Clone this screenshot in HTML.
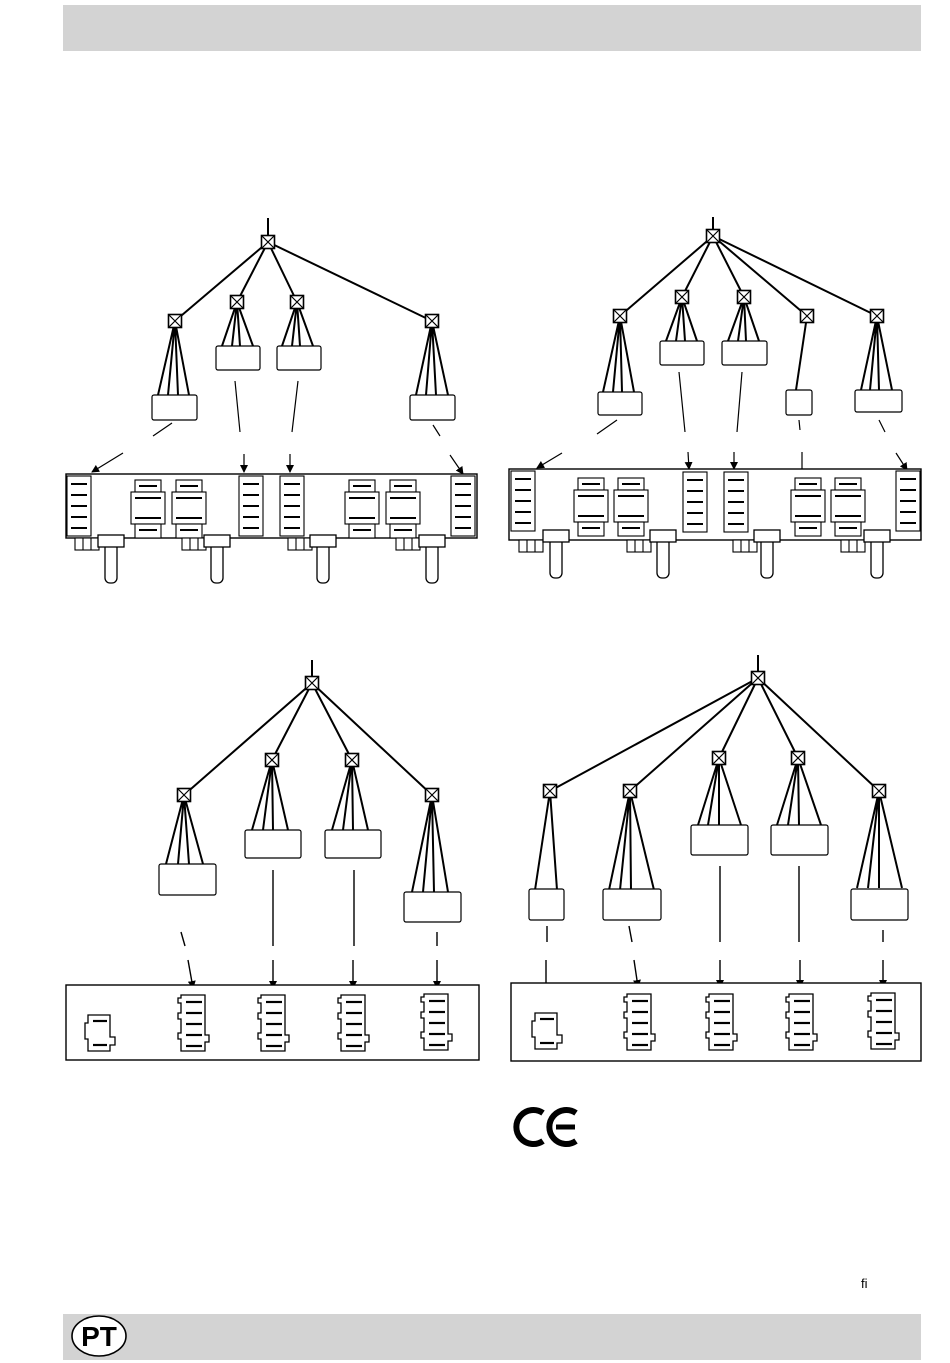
<!DOCTYPE html>
<html><head><meta charset="utf-8"><style>
html,body{margin:0;padding:0;background:#fff;}
svg{display:block;}
</style></head><body>
<svg width="950" height="1363" viewBox="0 0 950 1363" xmlns="http://www.w3.org/2000/svg" font-family="Liberation Sans, sans-serif">
<defs>
<g id="jb"><rect x="-6.5" y="-6.5" width="13" height="13" fill="#fff" stroke="#000" stroke-width="1.6"/><path d="M-6.5,-6.5L6.5,6.5M6.5,-6.5L-6.5,6.5" stroke="#000" stroke-width="1.2"/></g>
<marker id="ar" markerWidth="8" markerHeight="8" refX="7" refY="4" orient="auto" markerUnits="userSpaceOnUse"><path d="M0,0L8,4L0,8z" fill="#000"/></marker>
<g id="mod" fill="#fff" stroke="#000" stroke-width="1.3">
<path d="M0,0H24V40H28V47H24V56H0V44H-3V38H0V24H-3V18H0V8H-3V3H0Z"/>
<g stroke-width="2.2"><line x1="5" y1="7" x2="21" y2="7"/><line x1="5" y1="18" x2="21" y2="18"/><line x1="5" y1="29" x2="21" y2="29"/><line x1="5" y1="40" x2="21" y2="40"/><line x1="5" y1="51" x2="21" y2="51"/></g>
</g>
<g id="mod2" fill="#fff" stroke="#000" stroke-width="1.3">
<path d="M0,0H22V22H27V30H22V36H0V24H-3V8H0Z"/>
<g stroke-width="2.2"><line x1="5" y1="6" x2="19" y2="6"/><line x1="5" y1="30" x2="19" y2="30"/></g>
</g>
<g id="pmod" fill="#fff" stroke="#000" stroke-width="1.1">
<rect x="0" y="0" width="24" height="60"/>
<g stroke-width="2"><line x1="4" y1="8" x2="20" y2="8"/><line x1="4" y1="19" x2="20" y2="19"/><line x1="4" y1="30" x2="20" y2="30"/><line x1="4" y1="41" x2="20" y2="41"/><line x1="4" y1="52" x2="20" y2="52"/></g>
</g>
<g id="sw" fill="#fff" stroke="#000" stroke-width="1.1">
<rect x="0" y="0" width="26" height="12"/><rect x="-4" y="12" width="34" height="32"/><rect x="0" y="44" width="26" height="14"/>
<g stroke-width="2"><line x1="4" y1="6" x2="22" y2="6"/><line x1="0" y1="18" x2="26" y2="18"/><line x1="0" y1="38" x2="26" y2="38"/><line x1="4" y1="50" x2="22" y2="50"/></g>
</g>
<g id="knob" fill="#fff" stroke="#000" stroke-width="1.3">
<rect x="-6" y="8" width="12" height="40" rx="5"/><rect x="-13" y="0" width="26" height="12"/>
</g>
<g id="stub" fill="#fff" stroke="#000" stroke-width="1.1"><rect x="0" y="0" width="24" height="12"/><line x1="8" y1="0" x2="8" y2="12"/><line x1="16" y1="0" x2="16" y2="12"/></g>
</defs>

<rect x="63" y="5" width="858" height="46" fill="#d3d3d3"/>
<rect x="63" y="1314" width="858" height="46" fill="#d3d3d3"/>
<ellipse cx="99" cy="1336" rx="27" ry="20" fill="#fff" stroke="#000" stroke-width="1.6"/>
<text x="99" y="1346" font-size="28" font-weight="bold" text-anchor="middle">PT</text>
<text x="861" y="1288" font-size="13">fi</text>

<!-- CE -->
<path d="M543,1113 A17,17 0 1 0 543,1141" fill="none" stroke="#000" stroke-width="6"/>
<path d="M576,1113 A17,17 0 1 0 576,1141" fill="none" stroke="#000" stroke-width="6"/>
<line x1="556" y1="1127" x2="575" y2="1127" stroke="#000" stroke-width="5"/>

<g stroke="#000" stroke-width="2" fill="none">
<line x1="268" y1="218" x2="268" y2="236"/>
<line x1="268" y1="242" x2="175" y2="321"/><line x1="268" y1="242" x2="237" y2="302"/><line x1="268" y1="242" x2="297" y2="302"/><line x1="268" y1="242" x2="432" y2="321"/>
<path d="M175,321L158,395M175,321L168,395M175,321L178,395M175,321L189,395"/>
<path d="M237,302L222,346M237,302L232,346M237,302L240,346M237,302L253,346"/>
<path d="M297,302L282,346M297,302L292,346M297,302L300,346M297,302L313,346"/>
<path d="M432,321L416,395M432,321L426,395M432,321L436,395M432,321L448,395"/>
</g>
<g fill="#fff" stroke="#000" stroke-width="1.2">
<rect x="152" y="395" width="45" height="25" rx="2"/><rect x="216" y="346" width="44" height="24" rx="2"/><rect x="277" y="346" width="44" height="24" rx="2"/><rect x="410" y="395" width="45" height="25" rx="2"/>
</g>
<use href="#jb" x="268" y="242"/><use href="#jb" x="175" y="321"/><use href="#jb" x="237" y="302"/><use href="#jb" x="297" y="302"/><use href="#jb" x="432" y="321"/>
<g stroke="#000" stroke-width="1.2" fill="none">
<line x1="172" y1="423" x2="153" y2="436"/><line x1="123" y1="453" x2="92" y2="472" marker-end="url(#ar)"/>
<line x1="235" y1="381" x2="240" y2="432"/><line x1="244" y1="454" x2="244" y2="472" marker-end="url(#ar)"/>
<line x1="298" y1="381" x2="292" y2="432"/><line x1="290" y1="454" x2="290" y2="472" marker-end="url(#ar)"/>
<line x1="433" y1="425" x2="440" y2="436"/><line x1="450" y1="455" x2="463" y2="474" marker-end="url(#ar)"/>
</g>
<rect x="66" y="474" width="411" height="64" fill="#fff" stroke="#000" stroke-width="1.4"/>
<use href="#pmod" x="67" y="476"/><use href="#pmod" x="239" y="476"/><use href="#pmod" x="280" y="476"/><use href="#pmod" x="451" y="476"/>
<use href="#sw" x="135" y="480"/><use href="#sw" x="176" y="480"/><use href="#sw" x="349" y="480"/><use href="#sw" x="390" y="480"/>
<use href="#stub" x="75" y="538"/><use href="#stub" x="182" y="538"/><use href="#stub" x="288" y="538"/><use href="#stub" x="396" y="538"/>
<use href="#knob" x="111" y="535"/><use href="#knob" x="217" y="535"/><use href="#knob" x="323" y="535"/><use href="#knob" x="432" y="535"/>

<g stroke="#000" stroke-width="2" fill="none">
<line x1="713" y1="217" x2="713" y2="230"/>
<path d="M713,236L620,316M713,236L682,297M713,236L744,297M713,236L807,316M713,236L877,316"/>
<path d="M620,316L603,392M620,316L613,392M620,316L622,392M620,316L634,392"/>
<path d="M682,297L666,341M682,297L676,341M682,297L685,341M682,297L697,341"/>
<path d="M744,297L728,341M744,297L738,341M744,297L746,341M744,297L759,341"/>
<path d="M807,316L796,390"/>
<path d="M877,316L861,390M877,316L870,390M877,316L879,390M877,316L892,390"/>
</g>
<g fill="#fff" stroke="#000" stroke-width="1.2">
<rect x="598" y="392" width="44" height="23" rx="2"/><rect x="660" y="341" width="44" height="24" rx="2"/><rect x="722" y="341" width="45" height="24" rx="2"/><rect x="786" y="390" width="26" height="25" rx="2"/><rect x="855" y="390" width="47" height="22" rx="2"/>
</g>
<use href="#jb" x="713" y="236"/><use href="#jb" x="620" y="316"/><use href="#jb" x="682" y="297"/><use href="#jb" x="744" y="297"/><use href="#jb" x="807" y="316"/><use href="#jb" x="877" y="316"/>
<g stroke="#000" stroke-width="1.2" fill="none">
<line x1="617" y1="420" x2="597" y2="434"/><line x1="562" y1="453" x2="537" y2="468" marker-end="url(#ar)"/>
<line x1="679" y1="372" x2="685" y2="432"/><line x1="688" y1="452" x2="689" y2="469" marker-end="url(#ar)"/>
<line x1="742" y1="372" x2="737" y2="432"/><line x1="734" y1="452" x2="734" y2="469" marker-end="url(#ar)"/>
<line x1="799" y1="420" x2="800" y2="430"/><line x1="802" y1="452" x2="802" y2="485" marker-end="url(#ar)"/>
<line x1="879" y1="420" x2="885" y2="432"/><line x1="896" y1="453" x2="907" y2="470" marker-end="url(#ar)"/>
</g>
<rect x="509" y="469" width="412" height="71" fill="#fff" stroke="#000" stroke-width="1.4"/>
<use href="#pmod" x="511" y="471"/><use href="#pmod" x="683" y="472"/><use href="#pmod" x="724" y="472"/><use href="#pmod" x="896" y="471"/>
<use href="#sw" x="578" y="478"/><use href="#sw" x="618" y="478"/><use href="#sw" x="795" y="478"/><use href="#sw" x="835" y="478"/>
<use href="#stub" x="519" y="540"/><use href="#stub" x="627" y="540"/><use href="#stub" x="733" y="540"/><use href="#stub" x="841" y="540"/>
<use href="#knob" x="556" y="530"/><use href="#knob" x="663" y="530"/><use href="#knob" x="767" y="530"/><use href="#knob" x="877" y="530"/>

<g stroke="#000" stroke-width="2" fill="none">
<line x1="312" y1="660" x2="312" y2="676"/>
<path d="M312,683L184,795M312,683L272,760M312,683L352,760M312,683L432,795"/>
<path d="M184,795L166,864M184,795L178,864M184,795L189,864M184,795L203,864"/>
<path d="M272,760L252,830M272,760L263,830M272,760L273,830M272,760L288,830"/>
<path d="M352,760L332,830M352,760L343,830M352,760L353,830M352,760L368,830"/>
<path d="M432,795L412,892M432,795L423,892M432,795L434,892M432,795L448,892"/>
</g>
<g fill="#fff" stroke="#000" stroke-width="1.2">
<rect x="159" y="864" width="57" height="31" rx="2"/><rect x="245" y="830" width="56" height="28" rx="2"/><rect x="325" y="830" width="56" height="28" rx="2"/><rect x="404" y="892" width="57" height="30" rx="2"/>
</g>
<use href="#jb" x="312" y="683"/><use href="#jb" x="184" y="795"/><use href="#jb" x="272" y="760"/><use href="#jb" x="352" y="760"/><use href="#jb" x="432" y="795"/>
<g stroke="#000" stroke-width="1.4" fill="none">
<line x1="181" y1="932" x2="185" y2="946"/><line x1="188" y1="960" x2="193" y2="988" marker-end="url(#ar)"/>
<line x1="273" y1="870" x2="273" y2="946"/><line x1="273" y1="960" x2="273" y2="988" marker-end="url(#ar)"/>
<line x1="354" y1="870" x2="354" y2="946"/><line x1="353" y1="960" x2="353" y2="988" marker-end="url(#ar)"/>
<line x1="437" y1="932" x2="437" y2="946"/><line x1="437" y1="960" x2="437" y2="988" marker-end="url(#ar)"/>
</g>
<rect x="66" y="985" width="413" height="75" fill="#fff" stroke="#000" stroke-width="1.4"/>
<use href="#mod2" x="88" y="1015"/>
<use href="#mod" x="181" y="995"/><use href="#mod" x="261" y="995"/><use href="#mod" x="341" y="995"/><use href="#mod" x="424" y="994"/>

<g stroke="#000" stroke-width="2" fill="none">
<line x1="758" y1="655" x2="758" y2="672"/>
<path d="M758,678L550,791M758,678L630,791M758,678L719,758M758,678L798,758M758,678L879,791"/>
<path d="M550,791L535,890M550,791L557,890"/>
<path d="M630,791L609,890M630,791L620,890M630,791L631,890M630,791L654,890"/>
<path d="M719,758L698,825M719,758L708,825M719,758L719,825M719,758L741,825"/>
<path d="M798,758L777,825M798,758L788,825M798,758L799,825M798,758L821,825"/>
<path d="M879,791L857,888M879,791L868,888M879,791L879,888M879,791L902,888"/>
</g>
<g fill="#fff" stroke="#000" stroke-width="1.2">
<rect x="529" y="889" width="35" height="31" rx="2"/><rect x="603" y="889" width="58" height="31" rx="2"/><rect x="691" y="825" width="57" height="30" rx="2"/><rect x="771" y="825" width="57" height="30" rx="2"/><rect x="851" y="889" width="57" height="31" rx="2"/>
</g>
<use href="#jb" x="758" y="678"/><use href="#jb" x="550" y="791"/><use href="#jb" x="630" y="791"/><use href="#jb" x="719" y="758"/><use href="#jb" x="798" y="758"/><use href="#jb" x="879" y="791"/>
<g stroke="#000" stroke-width="1.4" fill="none">
<line x1="547" y1="926" x2="547" y2="942"/><line x1="546" y1="960" x2="546" y2="1001" marker-end="url(#ar)"/>
<line x1="629" y1="926" x2="632" y2="942"/><line x1="634" y1="960" x2="638" y2="987" marker-end="url(#ar)"/>
<line x1="720" y1="866" x2="720" y2="942"/><line x1="720" y1="960" x2="720" y2="987" marker-end="url(#ar)"/>
<line x1="799" y1="866" x2="799" y2="942"/><line x1="800" y1="960" x2="800" y2="987" marker-end="url(#ar)"/>
<line x1="883" y1="930" x2="883" y2="942"/><line x1="883" y1="960" x2="883" y2="987" marker-end="url(#ar)"/>
</g>
<rect x="511" y="983" width="410" height="78" fill="#fff" stroke="#000" stroke-width="1.4"/>
<use href="#mod2" x="535" y="1013"/>
<use href="#mod" x="627" y="994"/><use href="#mod" x="709" y="994"/><use href="#mod" x="789" y="994"/><use href="#mod" x="871" y="993"/>
</svg>
</body></html>
